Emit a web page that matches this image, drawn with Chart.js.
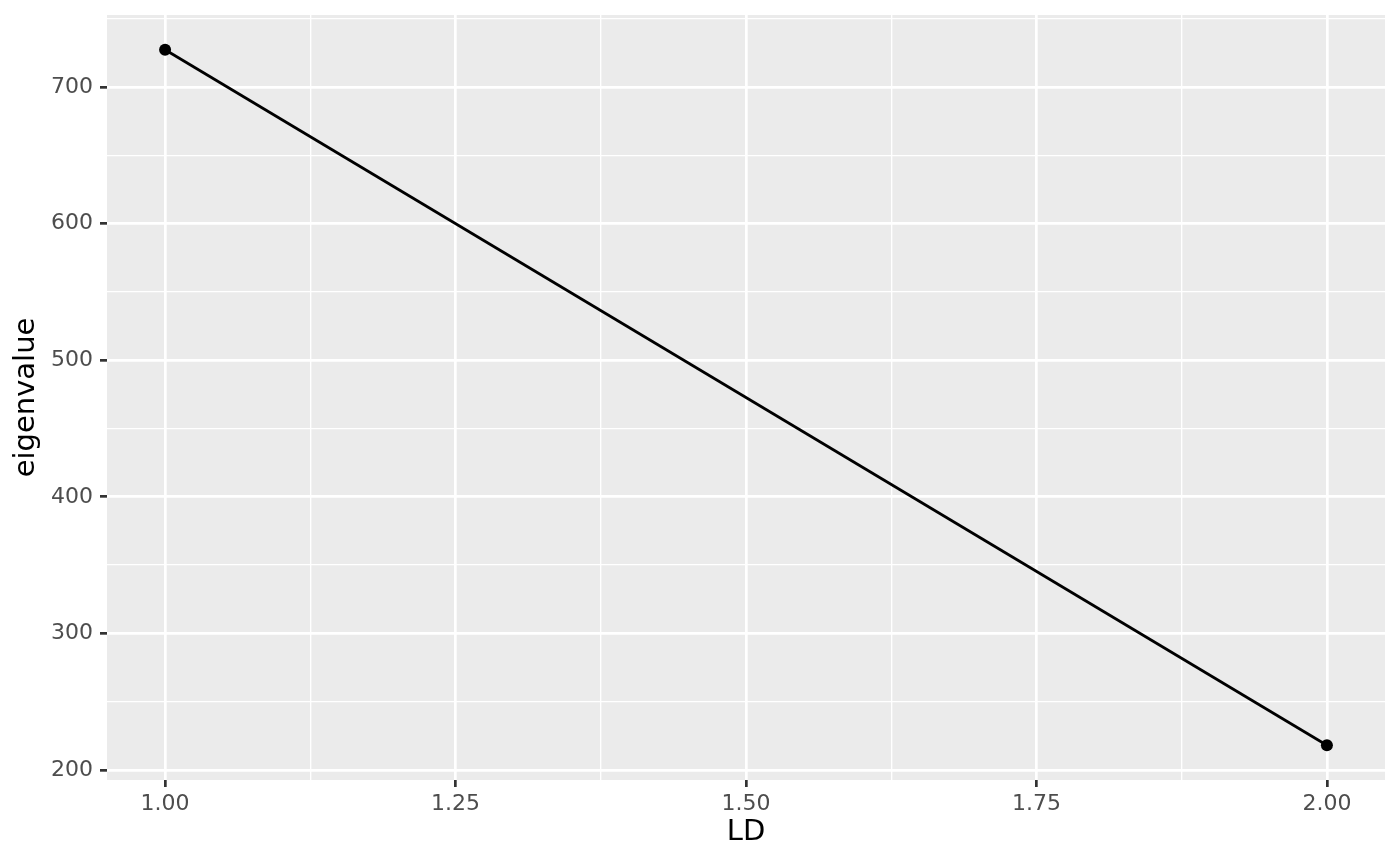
<!DOCTYPE html>
<html>
<head>
<meta charset="utf-8">
<script src="https://cdn.jsdelivr.net/npm/chart.js@4"></script>
<style>
  html, body { margin: 0; padding: 0; background: #ffffff; }
  #wrap { width: 1400px; height: 865px; position: relative; }
</style>
</head>
<body>
<div id="wrap"><canvas id="ldChart"></canvas></div>
<script>
(function () {
    'use strict';

    // Données
    const ldValues = [1, 2];
    const eigenvalues = [727.3, 218.1];

    // Graduations
    const xMajorTicks = [1, 1.25, 1.5, 1.75, 2];
    const xMinorTicks = [1.125, 1.375, 1.625, 1.875];
    const yMajorTicks = [200, 300, 400, 500, 600, 700];
    const yMinorTicks = [250, 350, 450, 550, 650, 750];

    // Expansion de 5 % comme ggplot
    function expand(values) {
        const lo = Math.min.apply(null, values);
        const hi = Math.max.apply(null, values);
        const pad = (hi - lo) * 0.05;
        return { min: lo - pad, max: hi + pad };
    }
    const xRange = expand(ldValues);
    const yRange = expand(eigenvalues);

    function setTicks(major, minor) {
        return function (scale) {
            const all = major.concat(minor).sort(function (a, b) { return a - b; });
            scale.ticks = all.map(function (v) { return { value: v }; });
        };
    }
    function isMajor(list, v) {
        return list.some(function (m) { return Math.abs(m - v) < 1e-9; });
    }

    // Fond gris du panneau
    const panelBackground = {
        id: 'panelBackground',
        beforeDraw: function (chart) {
            const a = chart.chartArea;
            const ctx = chart.ctx;
            ctx.save();
            ctx.fillStyle = '#EBEBEB';
            ctx.fillRect(a.left, a.top, a.right - a.left, a.bottom - a.top);
            ctx.restore();
        }
    };

    const tickFont = { family: 'DejaVu Sans', size: 22 };
    const titleFont = { family: 'DejaVu Sans', size: 29 };

    function gridFor(major) {
        return {
            color: '#FFFFFF',
            lineWidth: function (c) { return isMajor(major, c.tick.value) ? 2.7 : 1.35; },
            tickColor: function (c) { return isMajor(major, c.tick.value) ? '#333333' : 'rgba(0,0,0,0)'; },
            tickWidth: 2.7,
            tickLength: 7,
            drawTicks: true
        };
    }

    new Chart(document.getElementById('ldChart'), {
        type: 'line',
        data: {
            datasets: [{
                data: ldValues.map(function (x, i) { return { x: x, y: eigenvalues[i] }; }),
                borderColor: '#000000',
                backgroundColor: '#000000',
                borderWidth: 2.7,
                pointRadius: 6,
                pointBorderWidth: 0,
                pointBackgroundColor: '#000000',
                tension: 0,
                fill: false
            }]
        },
        plugins: [panelBackground],
        options: {
            responsive: true,
            maintainAspectRatio: false,
            animation: false,
            layout: { padding: { left: 0, right: 15, top: 15, bottom: 0 } },
            plugins: {
                legend: { display: false },
                tooltip: { enabled: false }
            },
            scales: {
                x: {
                    type: 'linear',
                    min: xRange.min,
                    max: xRange.max,
                    afterBuildTicks: setTicks(xMajorTicks, xMinorTicks),
                    afterFit: function (scale) {
                        scale.height = 85;
                        scale.paddingLeft = 0;
                        scale.paddingRight = 0;
                    },
                    grid: gridFor(xMajorTicks),
                    border: { display: false },
                    ticks: {
                        autoSkip: false,
                        maxRotation: 0,
                        padding: 4,
                        color: '#4D4D4D',
                        font: tickFont,
                        callback: function (v) { return isMajor(xMajorTicks, v) ? v.toFixed(2) : ''; }
                    },
                    title: {
                        display: true,
                        text: 'LD',
                        color: '#000000',
                        font: titleFont,
                        padding: { top: 0, bottom: 15 }
                    }
                },
                y: {
                    type: 'linear',
                    min: yRange.min,
                    max: yRange.max,
                    afterBuildTicks: setTicks(yMajorTicks, yMinorTicks),
                    afterFit: function (scale) {
                        scale.width = 107;
                        scale.paddingTop = 0;
                        scale.paddingBottom = 0;
                    },
                    grid: gridFor(yMajorTicks),
                    border: { display: false },
                    ticks: {
                        autoSkip: false,
                        padding: 7,
                        color: '#4D4D4D',
                        font: tickFont,
                        callback: function (v) { return isMajor(yMajorTicks, v) ? String(v) : ''; }
                    },
                    title: {
                        display: true,
                        text: 'eigenvalue',
                        color: '#000000',
                        font: titleFont,
                        padding: { top: 9, bottom: 0 }
                    }
                }
            }
        }
    });
})();
</script>
</body>
</html>
